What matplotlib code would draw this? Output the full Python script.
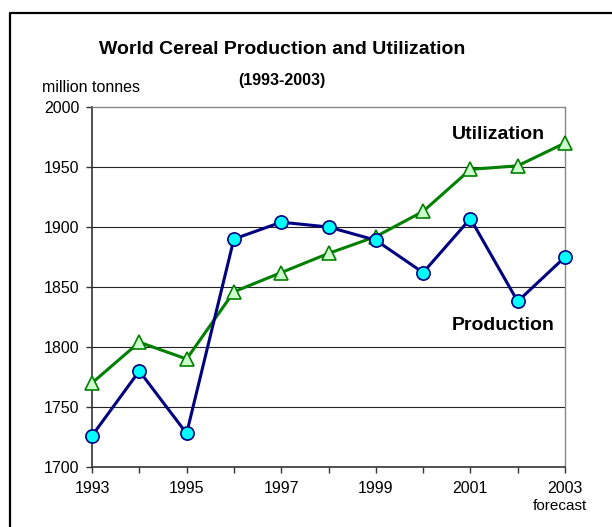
import matplotlib
matplotlib.use('Agg')
import matplotlib.pyplot as plt
from matplotlib.lines import Line2D

plt.rcParams['font.family'] = ['Liberation Sans', 'DejaVu Sans']

# Data (million tonnes)
years = [1993, 1994, 1995, 1996, 1997, 1998, 1999, 2000, 2001, 2002, 2003]
production = [1726, 1780, 1728, 1890, 1904, 1900, 1889, 1862, 1907, 1838, 1875]
utilization = [1770, 1804, 1790, 1846, 1862, 1878, 1892, 1913, 1948, 1951, 1970]
year_labels = ['1993', '1995', '1997', '1999', '2001', '2003']
y_ticks = [1700, 1750, 1800, 1850, 1900, 1950, 2000]

W, H = 612, 527
fig = plt.figure(figsize=(W / 100, H / 100), dpi=100)
fig.patch.set_facecolor('white')

# plot area in pixels: left 92, right 565, top 107, bottom 467
ax = fig.add_axes([92 / W, 1 - 467 / H, (565 - 92) / W, (467 - 107) / H])

for v in y_ticks[1:-1]:
    ax.axhline(v, color='#222222', lw=0.8, zorder=1)

ax.plot(years, utilization, color='#008000', lw=2.2, marker='^', ms=10.5,
        markerfacecolor='#ccffcc', markeredgecolor='#008000', markeredgewidth=1.2,
        clip_on=False, zorder=3)
ax.plot(years, production, color='#000080', lw=2.2, marker='o', ms=9.5,
        markerfacecolor='#00ffff', markeredgecolor='#000080', markeredgewidth=1.2,
        clip_on=False, zorder=4)

ax.set_xlim(1993, 2003)
ax.set_ylim(1700, 2000)
ax.set_yticks(y_ticks)
ax.set_xticks(years)
ax.set_xticklabels([str(y) if str(y) in year_labels else '' for y in years])

for side in ['top', 'right']:
    ax.spines[side].set_color('#888888')
    ax.spines[side].set_linewidth(1.0)
for side in ['left', 'bottom']:
    ax.spines[side].set_color('#333333')
    ax.spines[side].set_linewidth(1.2)

ax.tick_params(axis='both', direction='out', length=4, width=1, color='#333333',
               labelsize=11.5)
ax.tick_params(axis='x', pad=6)
ax.tick_params(axis='y', pad=5)

# series labels
ax.text(545 / W, 1 - 135 / H, 'Utilization', transform=fig.transFigure,
        ha='right', va='center', fontsize=14, fontweight='bold')
ax.text(555 / W, 1 - 325 / H, 'Production', transform=fig.transFigure,
        ha='right', va='center', fontsize=14, fontweight='bold')

# titles
fig.text(282 / W, 1 - 50 / H, 'World Cereal Production and Utilization',
         ha='center', va='center', fontsize=14, fontweight='bold')
fig.text(282 / W, 1 - 80 / H, '(1993-2003)', ha='center', va='center',
         fontsize=11.5, fontweight='bold')
fig.text(42 / W, 1 - 87 / H, 'million tonnes', ha='left', va='center', fontsize=11.5)
fig.text(560 / W, 1 - 506 / H, 'forecast', ha='center', va='center', fontsize=11)

# outer frame (partially cropped)
fig.add_artist(Line2D([10 / W, 10 / W, 1.0], [0.0, 1 - 12.5 / H, 1 - 12.5 / H],
                      transform=fig.transFigure, color='black', lw=1.6))

fig.savefig('out.png', dpi=100, facecolor='white')
